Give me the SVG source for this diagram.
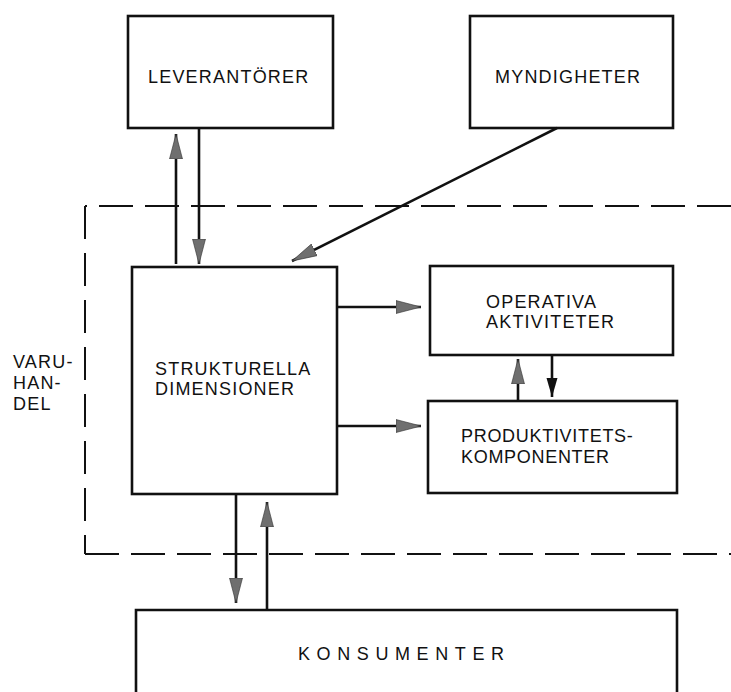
<svg xmlns="http://www.w3.org/2000/svg" width="731" height="692" viewBox="0 0 731 692">
  <style>
    .box { fill: #fff; stroke: #111; stroke-width: 2.6; }
    .lbl { font-family: "Liberation Sans", Arial, Helvetica, sans-serif; font-size: 18px; fill: #111; letter-spacing: 1.2px; }
    .wide { letter-spacing: 6.6px; }
    .line { fill: none; stroke: #111; stroke-width: 2.6; }
    .dash { fill: none; stroke: #111; stroke-width: 2; stroke-dasharray: 34 12; }
    .dashv { fill: none; stroke: #111; stroke-width: 2; stroke-dasharray: 33 14; }
  </style>
  <defs>
    <marker id="grayHead" markerUnits="userSpaceOnUse" markerWidth="26" markerHeight="14" refX="25" refY="7" orient="auto">
      <path d="M0,0.5 L25,7 L0,13.5 Z" fill="#6f6f6f" stroke="#333" stroke-width="0.6"/>
    </marker>
    <marker id="blackHead" markerUnits="userSpaceOnUse" markerWidth="20" markerHeight="12" refX="19" refY="6" orient="auto">
      <path d="M0,0.5 L19,6 L0,11.5 Z" fill="#111"/>
    </marker>
  </defs>

  <!-- VARUHANDEL boundary -->
  <g id="varuhandel">
    <path class="dash" d="M731,206 H85"/>
    <path class="dashv" d="M85,206 V554"/>
    <path class="dash" d="M85,554 H731"/>
    <text class="lbl" x="13" y="368">VARU-</text>
    <text class="lbl" x="13" y="389">HAN-</text>
    <text class="lbl" x="13" y="410">DEL</text>
  </g>

  <g id="leverantorer">
    <rect class="box" x="128" y="16" width="205" height="112"/>
    <text class="lbl" x="148" y="83">LEVERANTÖRER</text>
  </g>

  <g id="myndigheter">
    <rect class="box" x="470" y="16" width="203" height="112"/>
    <text class="lbl" x="495" y="83">MYNDIGHETER</text>
  </g>

  <g id="strukturella">
    <rect class="box" x="132" y="267" width="205" height="227"/>
    <text class="lbl" x="155" y="375">STRUKTURELLA</text>
    <text class="lbl" x="155" y="395">DIMENSIONER</text>
  </g>

  <g id="operativa">
    <rect class="box" x="430" y="266" width="243" height="89"/>
    <text class="lbl" x="486" y="308">OPERATIVA</text>
    <text class="lbl" x="486" y="328">AKTIVITETER</text>
  </g>

  <g id="produktivitet">
    <rect class="box" x="428" y="401" width="249" height="92"/>
    <text class="lbl" x="461" y="442" style="letter-spacing:0.7px">PRODUKTIVITETS-</text>
    <text class="lbl" x="461" y="463" style="letter-spacing:0.7px">KOMPONENTER</text>
  </g>

  <g id="konsumenter">
    <path class="box" d="M136,700 V610 H677 V700"/>
    <text class="lbl wide" x="298" y="660">KONSUMENTER</text>
  </g>

  <g id="connectors">
    <path class="line" d="M176,264 V134" marker-end="url(#grayHead)"/>
    <path class="line" d="M199,128 V264" marker-end="url(#grayHead)"/>
    <path class="line" d="M557,128 L292,261" marker-end="url(#grayHead)"/>
    <path class="line" d="M337,307 H421" marker-end="url(#grayHead)"/>
    <path class="line" d="M337,426 H421" marker-end="url(#grayHead)"/>
    <path class="line" d="M518,401 V359" marker-end="url(#grayHead)"/>
    <path class="line" d="M552,355 V397" marker-end="url(#blackHead)"/>
    <path class="line" d="M236,494 V603" marker-end="url(#grayHead)"/>
    <path class="line" d="M267,610 V502" marker-end="url(#grayHead)"/>
  </g>
</svg>
